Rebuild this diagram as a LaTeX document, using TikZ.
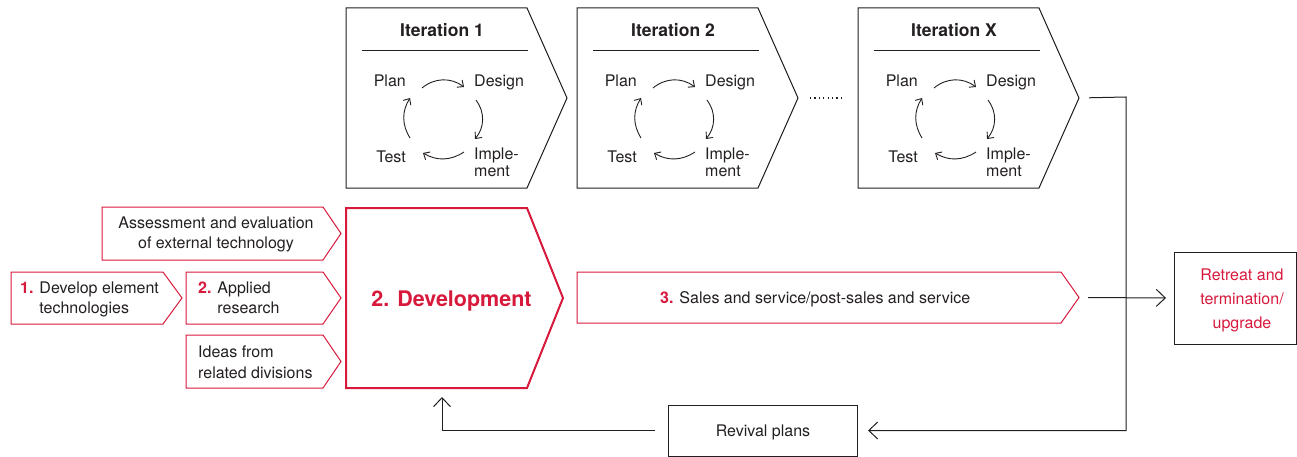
\documentclass[tikz,border=0pt]{standalone}
\usepackage{fontspec}
\setmainfont{TeX Gyre Heros}
\usetikzlibrary{arrows.meta}
\definecolor{brand}{RGB}{215,25,60}
\definecolor{ink}{RGB}{35,31,32}

\tikzset{
  box/.style={inner sep=0pt, outer sep=0pt},
  blackline/.style={draw=ink, line width=1pt, line join=miter},
  redline/.style={draw=brand, line width=1pt, line join=miter},
  devline/.style={draw=brand, line width=2pt, line join=miter},
  txt/.style={inner sep=0pt, text=ink, font=\fontsize{16}{20}\selectfont},
  title/.style={inner sep=0pt, text=ink, font=\fontsize{17.5}{20}\selectfont\bfseries},
  flow/.style={draw=ink, line width=1pt, -{Straight Barb[length=9pt,width=17pt]}},
  cyc/.style={draw=ink, line width=0.9pt, -{Straight Barb[length=5pt,width=9pt]}},
}
% outline of a box with a pointed right end; #1 node, #2 tip depth, #3 style
\newcommand\chevpath[3]{%
  \draw[#3] (#1.north west) -- (#1.north east) -- ([xshift=#2]#1.east)
    -- (#1.south east) -- (#1.south west) -- cycle;
  \coordinate (#1-tip) at ([xshift=#2]#1.east);}
\newcommand\num[1]{\textcolor{brand}{\bfseries #1}}

\begin{document}
\begin{tikzpicture}[x=1pt,y=-1pt]
\useasboundingbox (0,0) rectangle (1297,457);

% iteration boxes with their plan/design/implement/test cycles
\foreach \dx/\n/\ttl in {0/1/1, 231/2/2, 512/3/X} {
  \node[box, minimum width=181pt, minimum height=180pt] (it\n) at ({436.5+\dx},98) {};
  \chevpath{it\n}{40pt}{blackline}
  \node[title, anchor=base] (it\n-title) at ({442+\dx},37) {Iteration \ttl};
  \draw[draw=ink, line width=1pt] ({362+\dx},51) -- ({528+\dx},51);
  \node[txt, anchor=base east] (it\n-plan) at ({406+\dx},87) {Plan};
  \node[txt, anchor=base west] (it\n-design) at ({474+\dx},87) {Design};
  \node[txt, anchor=base east] (it\n-test) at ({406+\dx},163) {Test};
  \node[txt, anchor=west, align=left, font=\fontsize{16}{16.5}\selectfont] (it\n-impl) at ({474+\dx},162.5) {Imple-\\ment};
  \draw[cyc] ({422+\dx},88) to[bend left=38] ({464+\dx},87);
  \draw[cyc] ({476+\dx},100) to[bend left=38] ({475+\dx},139);
  \draw[cyc] ({464+\dx},152) to[bend left=32] ({423+\dx},153);
  \draw[cyc] ({410+\dx},138) to[bend left=32] ({410+\dx},98);
}
\draw[draw=ink, line width=1.3pt, dash pattern=on 1.2pt off 3.2pt, shorten <=12pt, shorten >=13pt] (it2-tip) -- (it3.west);

% input boxes
\node[box, minimum width=221pt, minimum height=53pt] (assess) at (212.5,233.5) {};
\chevpath{assess}{18pt}{redline}
\node[txt, align=center] (assess-t) at (216,234.5) {Assessment and evaluation\\of external technology};

\node[box, minimum width=152pt, minimum height=52pt] (element) at (87,298) {};
\chevpath{element}{19pt}{redline}
\node[txt, anchor=west, align=left] (element-t) at (20,299) {\num{1.} Develop element\\\hphantom{\bfseries 1. }technologies};

\node[box, minimum width=137pt, minimum height=52pt] (applied) at (254.5,298) {};
\chevpath{applied}{18pt}{redline}
\node[txt, anchor=west, align=left] (applied-t) at (198,297.6) {\num{2.} Applied\\\hphantom{\bfseries 2. }research};

\node[box, minimum width=137pt, minimum height=53pt] (ideas) at (254.5,361.5) {};
\chevpath{ideas}{18pt}{redline}
\node[txt, anchor=west, align=left, font=\fontsize{16}{21}\selectfont] (ideas-t) at (198,362) {Ideas from\\related divisions};

% development stage
\node[box, minimum width=181pt, minimum height=180pt] (dev) at (436.5,298) {};
\chevpath{dev}{36pt}{devline}
\node[inner sep=0pt, text=brand, font=\fontsize{21.5}{24}\selectfont\bfseries, anchor=base] (dev-t) at (451.5,306) {2. Development};

% sales stage
\node[box, minimum width=484pt, minimum height=51pt] (sales) at (819,297.5) {};
\chevpath{sales}{18pt}{redline}
\node[txt, anchor=base west] (sales-t) at (660,303) {\num{3.} Sales and service/post-sales and service};

% end of life
\node[box, draw=ink, line width=1pt, minimum width=122pt, minimum height=92pt] (retreat) at (1235,298) {};
\node[txt, text=brand, align=center, font=\fontsize{16}{24}\selectfont] (retreat-t) at (1242,300) {Retreat and\\termination/\\upgrade};

\node[box, draw=ink, line width=1pt, minimum width=189pt, minimum height=51pt] (revival) at (762.5,430.5) {};
\node[txt, anchor=base] (revival-t) at (763,436) {Revival plans};

% connectors
\coordinate (turn) at (1126,97);
\draw[flow, shorten <=10pt, shorten >=11pt] (it3-tip) -- (turn) |- (revival.east);
\draw[flow, shorten <=9pt, shorten >=8pt] (sales-tip) -- (retreat.west);
\draw[flow, shorten <=13pt, shorten >=9pt] (revival.west) -| ([xshift=5.5pt]dev.south);
\end{tikzpicture}
\end{document}
